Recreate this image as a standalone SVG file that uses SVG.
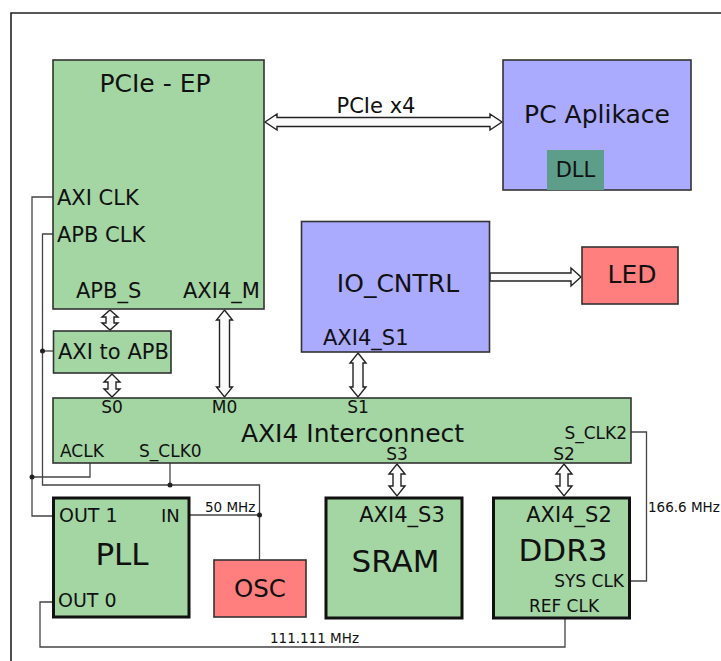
<svg xmlns="http://www.w3.org/2000/svg" width="721" height="661" viewBox="0 0 721 661">
<style>
text{font-family:"DejaVu Sans","Liberation Sans",sans-serif;fill:#111}
.g{fill:#a3d6a3;stroke:#333;stroke-width:1.6}
.gt{fill:#a3d6a3;stroke:#111;stroke-width:3}
.b{fill:#aaaaff;stroke:#333;stroke-width:1.6}
.r{fill:#ff7f7f;stroke:#333;stroke-width:1.6}
.w{fill:none;stroke:#444;stroke-width:1.3}
.ar{fill:#fbfbfb;stroke:#222;stroke-width:1.4}
.s21{font-size:21px}.s17{font-size:17px}.s13{font-size:13.5px}.s25{font-size:25px}.s31{font-size:31px}
</style>
<rect width="721" height="661" fill="#fff"/>
<path d="M11 661 V13 H721" fill="none" stroke="#222" stroke-width="1.6"/>

<g id="connectors">
<path class="w" d="M53 197 H32 V516 H53"/>
<path class="w" d="M53 234 H42.5 V485 H259.5 V560"/>
<path class="w" d="M42.5 351 H53"/>
<path class="w" d="M90 463 V477 H32"/>
<path class="w" d="M170 463 V485"/>
<path class="w" d="M189 515 H259.5"/>
<path class="w" d="M53 602 H40 V647 H565 V618"/>
<path class="w" d="M631 432 H646.5 V581 H629"/>
<g fill="#222">
<circle cx="32" cy="477" r="2.5"/><circle cx="42.5" cy="351" r="2.5"/><circle cx="170" cy="485" r="2.5"/><circle cx="259.5" cy="515" r="2.5"/>
</g>
<path class="ar" d="M265 122 L277 114 L277 117.5 L490 117.5 L490 114 L502 122 L490 130 L490 126.5 L277 126.5 L277 130 Z"/>
<path class="ar" d="M490 273 L571 273 L571 268 L581 277 L571 286 L571 281 L490 281 Z"/>
<path class="ar" d="M110 310 L118 317 L114 317 L114 323 L118 323 L110 330 L102 323 L106 323 L106 317 L102 317 Z"/>
<path class="ar" d="M112 374 L120 382 L116 382 L116 389 L120 389 L112 397 L104 389 L108 389 L108 382 L104 382 Z"/>
<path class="ar" d="M224.5 310 L232.5 320 L229.5 320 L229.5 387 L232.5 387 L224.5 397 L216.5 387 L219.5 387 L219.5 320 L216.5 320 Z"/>
<path class="ar" d="M358 353 L366 363 L363 363 L363 387 L366 387 L358 397 L350 387 L353 387 L353 363 L350 363 Z"/>
<path class="ar" d="M397 464 L405 474 L401 474 L401 486 L405 486 L397 496 L389 486 L393 486 L393 474 L389 474 Z"/>
<path class="ar" d="M564 464 L572 474 L568 474 L568 486 L572 486 L564 496 L556 486 L560 486 L560 474 L556 474 Z"/>
<text class="s21" x="376" y="113" text-anchor="middle">PCIe x4</text>
<text class="s13" x="205" y="512">50 MHz</text>
<text class="s13" x="270" y="643">111.111 MHz</text>
<text class="s13" x="648" y="512">166.6 MHz</text>
</g>

<g id="pcie-ep">
<rect class="g" x="53" y="60" width="211" height="249"/>
<text class="s25" x="155" y="92" text-anchor="middle">PCIe - EP</text>
<text class="s21" x="57" y="205">AXI CLK</text>
<text class="s21" x="57" y="242">APB CLK</text>
<text class="s21" x="76" y="298">APB_S</text>
<text class="s21" x="183" y="298">AXI4_M</text>
</g>

<g id="pc-aplikace">
<rect class="b" x="503" y="60" width="188" height="130"/>
<text class="s25" x="597" y="123" text-anchor="middle">PC Aplikace</text>
<g id="dll">
<rect x="547" y="150" width="57" height="40" fill="#5c9e8a"/>
<text class="s21" x="575.5" y="177" text-anchor="middle">DLL</text>
</g>
</g>

<g id="io-cntrl">
<rect class="b" x="301.5" y="221.5" width="188" height="130.5"/>
<text class="s25" x="398" y="292" text-anchor="middle">IO_CNTRL</text>
<text class="s21" x="323" y="345">AXI4_S1</text>
</g>

<g id="led">
<rect class="r" x="582" y="247" width="96" height="57"/>
<text class="s25" x="632" y="283" text-anchor="middle">LED</text>
</g>

<g id="axi-to-apb">
<rect class="g" x="53.5" y="331" width="117.5" height="42"/>
<text class="s21" x="58" y="359">AXI to APB</text>
</g>

<g id="axi4-interconnect">
<rect class="g" x="53" y="398" width="578" height="65"/>
<text class="s25" x="352.5" y="442" text-anchor="middle">AXI4 Interconnect</text>
<text class="s17" x="112" y="413" text-anchor="middle">S0</text>
<text class="s17" x="224.5" y="413" text-anchor="middle">M0</text>
<text class="s17" x="358" y="413" text-anchor="middle">S1</text>
<text class="s17" x="60" y="457">ACLK</text>
<text class="s17" x="139" y="457">S_CLK0</text>
<text class="s17" x="627" y="439" text-anchor="end">S_CLK2</text>
<text class="s17" x="397" y="460" text-anchor="middle">S3</text>
<text class="s17" x="564" y="460" text-anchor="middle">S2</text>
</g>

<g id="pll">
<rect class="gt" x="53.5" y="498" width="135.5" height="119"/>
<text class="s31" x="122" y="565" text-anchor="middle">PLL</text>
<text x="59" y="522" style="font-size:19px">OUT 1</text>
<text x="161" y="522" style="font-size:18px">IN</text>
<text x="58" y="607" style="font-size:19px">OUT 0</text>
</g>

<g id="osc">
<rect class="r" x="214" y="560" width="92" height="57"/>
<text x="260" y="597" text-anchor="middle" style="font-size:24.5px">OSC</text>
</g>

<g id="sram">
<rect class="gt" x="326" y="498" width="136" height="120"/>
<text class="s21" x="402" y="522" text-anchor="middle">AXI4_S3</text>
<text class="s31" x="395.5" y="572" text-anchor="middle">SRAM</text>
</g>

<g id="ddr3">
<rect class="gt" x="493.5" y="498" width="136" height="120"/>
<text class="s21" x="569" y="522" text-anchor="middle">AXI4_S2</text>
<text class="s31" x="563" y="561" text-anchor="middle">DDR3</text>
<text class="s17" x="624" y="587" text-anchor="end">SYS CLK</text>
<text class="s17" x="564" y="612" text-anchor="middle">REF CLK</text>
</g>
</svg>
